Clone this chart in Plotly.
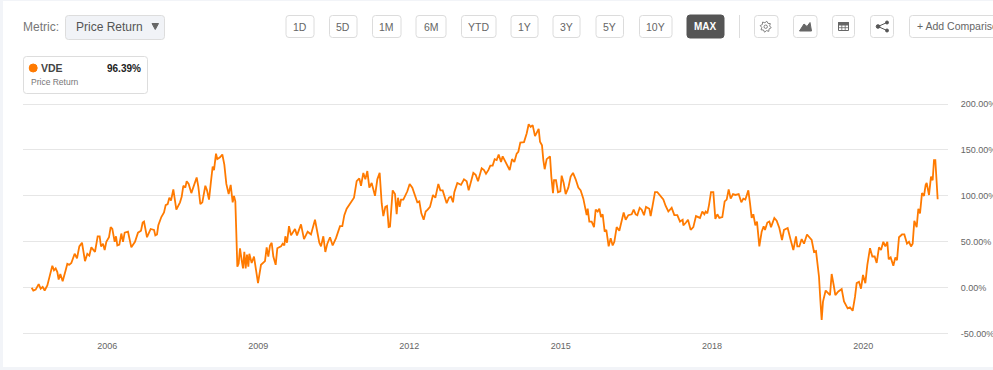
import math
import plotly.graph_objects as go

# Data: ordinal position on the (non-linear) time axis, and VDE price return in %
positions = [95,100,107,116,122,128,134,142,150,157,162,167,172,176,181,188,197,202,208,214,224,231,238,246,255,262,268,274,285,293,299,303,309,314,319,327,332,337,344,348,352,358,364,369,374,384,394,405,414,423,428,432,441,452,462,466,471,475,484,492,497,503,508,513,520,524,529,540,545,550,556,560,566,574,583,590,595,601,607,616,621,627,633,638,642,648,652,660,667,673,679,686,692,698,702,706,709,712,716,720,725,729,733,737,741,745,748,755,762,768,774,783,795,800,805,810,815,820,827,832,843,848,853,856,861,867,873,885,891,903,912,923,933,945,953,958,963,970,976,982,
990,998,1008,1020,1027,1033,1040,1055,1062,1070,1078,1083,1090,1096,1102,1108,1115,1125,1132,1139,1145,1150,1156,1161,1166,1170,1178,1185,1190,1194,1199,1203,1210,1222,1229,1237,1247,1252,1258,1264,1271,1277,1283,1290,1299,1306,1315,1321,1328,1340,1347,1353,1359,1363,1372,1383,1392,1400,1406,1415,1420,1427,1434,1445,1452,1458,1465,1471,1478,1484,1490,1496,1503,1508,1515,1523,1529,1536,1543,1550,1555,1561,1572,1580,1586,1592,1598,1605,1616,1620,1626,1630,1634,1640,1650,1654,1659,1662,1668,1674,1681,1685,1691,1697,1705,1712,1719,1727,1735,1742,1750,1755,1760,1763,1768,1775,1782,1787,1793,1798,1803,1808,1814,1819,1826,1832,1838,1843,1850,1858,1866,1871,1877,1885,1895,1901,1907,1912,1919,1925,1932,1938,1948,1952,1958,1965,1972,1980,
1990,1997,2005,2015,2023,2032,2040,2048,2050,2058,2064,2072,2080,2088,2100,2107,2113,2117,2122,2127,2133,2140,2146,2152,2158,2167,2174,2180,2186,2192,2199,2206,2216,2224,2230,2236,2245,2250,2255,2260,2266,2271,2278,2285,2291,2295,2302,2308,2313,2323,2330,2338,2346,2352,2363,2372,2380,2388,2392,2398,2405,2412,2421,2435,2442,2448,2457,2461,2465,2469,2477,2490,2495,2501,2506,2515,2525,2532,2543,2550,2558,2565,2570,2577,2583,2589,2596,2602,2610,2617,2624,2630,2637,2643,2650,2656,2662,2666,2672,2680,2686,2691,2697,2706,2713,2721,2727,2733,2738,2743,2750,2755,2760,2766,2772,2777,2780,2787,2793,2798,2802,2806,2810,2813,2816]
returns = [0,-3,-2,4,-1,1,-3,2.5,14,24,19,21,17,9,15,7,19,26,25,27,37,32,45,49,29,37,35,44,39,56,56,45,48,41,50,55,66,64,50,56,46,47,59,50,60,61,44,50,60,62,71,72,55,64,63,57,58,68,77,82,90,91,98,95,107,97,85,93,99,111,109,116,113,103,113,120,110,91,93,111,106,96,116,132,128,146,140,142,145,134,113,102,112,93,100,94,59,23,26.5,43,30,21,39,21,36,23,37,27,34,19,5,25,29,44,34,46,49,34,25,43,45,48,46,56,49,67,57,64,57,69,53,61,58,74,57,49,45,56,39,48,
55,46,54,67,67,79,86,94,98,116,119,111,125,118,127,109,114,100,118,125,92,78,88,89,66,66.5,106,102,80,98,88,96,96,105,113,109,97,93,94,81,74,83,85,88,101,98,113,106,106,92,98,99,93,104,114,112,118,116,106,120,125,123,116,130,128,124,128,133,133,140,139,145,137,143,138,134,128,140,137,146,148,158,158.5,168,178,175,177,165,173,159,155,139,129,140,143,121,103,117,117,104,105,122,114,102,109,121,125,118,109,106,97,88,79,86,72,72,66,85,83,86,77,80,61,63,45,54,46,50,66,62,73,82,74,79,80,85,80,79,87,85,79,88,86,78,90,104,104,100,
96,89,83,87,79,79,72,74,68,71,74,63,66,78,76,83,80,83,81,90,104,104,75,80,76,77,94,96,107,97,102,101,102,93,97,96,106,92,76,80,68,72,45,61,67,63,71,72,66,76,73,65,52,63,65,52,41,56,45,45,53,48,58,52,39,40,12,-13,-35,-15,-3,-8,15,3,-8,-4,-1.5,-15,-22.5,-21.4,-25,-10,5,6.5,-1,14,5,25,43,34,34,27,44,41,50,45,50,31,33,24,33,30,55,58,58,48,50,45,48,73,66,86,81,103,100,112,114,101,121,117,139,139,107,96.39]
tick_positions = [322, 775, 1228, 1682, 2136, 2590]
tick_labels = ["2006", "2009", "2012", "2015", "2018", "2020"]
range_buttons = [("1D",286,314),("5D",329.5,357),("1M",372.5,401),("6M",416,446),("YTD",461.5,496),
                 ("1Y",511,538),("3Y",553,580),("5Y",596,623.5),("10Y",639.5,672)]
y_ticks = [-50, 0, 50, 100, 150, 200]
y_labels = ["-50.00%", "0.00%", "50.00%", "100.00%", "150.00%", "200.00%"]

W, H = 993, 370
FONT = "Liberation Sans"
px = lambda v: v / W
py = lambda v: 1 - v / H

def rrect(x0, y0, x1, y1, r=3):
    X0, X1, Y0, Y1 = px(x0), px(x1), py(y0), py(y1)
    rx, ry = r / W, r / H
    return (f"M{X0+rx},{Y0} L{X1-rx},{Y0} Q{X1},{Y0} {X1},{Y0-ry} L{X1},{Y1+ry} Q{X1},{Y1} {X1-rx},{Y1} "
            f"L{X0+rx},{Y1} Q{X0},{Y1} {X0},{Y1+ry} L{X0},{Y0-ry} Q{X0},{Y0} {X0+rx},{Y0} Z")

def poly(points, close=True):
    s = "M" + " L".join(f"{px(a)},{py(b)}" for a, b in points)
    return s + (" Z" if close else "")

shapes, annos = [], []

def box(x0, y0, x1, y1, fill="#ffffff", line="#dcdcdc", r=3):
    shapes.append(dict(type="path", xref="paper", yref="paper", path=rrect(x0, y0, x1, y1, r),
                       fillcolor=fill, line=dict(color=line, width=1), layer="below"))

def pathshape(d, fill="rgba(0,0,0,0)", line="#666666", w=1):
    shapes.append(dict(type="path", xref="paper", yref="paper", path=d, fillcolor=fill,
                       line=dict(color=line, width=w), layer="above"))

def circle(cx, cy, r, fill="#666666", line="#666666", w=1):
    shapes.append(dict(type="circle", xref="paper", yref="paper", x0=px(cx-r), x1=px(cx+r),
                       y0=py(cy+r), y1=py(cy-r), fillcolor=fill, line=dict(color=line, width=w), layer="above"))

def text(t, x, y, size=11, color="#666666", anchor="left", bold=False):
    annos.append(dict(text=f"<b>{t}</b>" if bold else t, xref="paper", yref="paper", x=px(x), y=py(y),
                      xanchor=anchor, yanchor="middle", showarrow=False, borderpad=0, borderwidth=0,
                      font=dict(family=FONT, size=size, color=color)))

# page strip and white card
shapes.append(dict(type="rect", xref="paper", yref="paper", x0=px(3), x1=1, y0=py(367), y1=py(1),
                   fillcolor="#ffffff", line=dict(width=0), layer="below"))

# metric selector
text("Metric:", 23, 26.5, 12, "#777777")
box(65.5, 15.5, 164.5, 39.5, fill="#f1f3f7", line="#dddddd")
text("Price Return", 76, 27, 12, "#555555")
pathshape(poly([(152, 23.5), (158.5, 23.5), (155.25, 29.5)]), fill="#666666", line="#666666")

# range buttons
for label, x0, x1 in range_buttons:
    box(x0, 15.5, x1, 37.5)
    text(label, (x0 + x1) / 2, 26.5, 10.5, "#666666", "center")
box(687, 15, 724, 38, fill="#555555", line="#555555")
text("MAX", 705.5, 26.5, 10, "#ffffff", "center", bold=True)
shapes.append(dict(type="line", xref="paper", yref="paper", x0=px(739.5), x1=px(739.5), y0=py(15), y1=py(38),
                   line=dict(color="#dddddd", width=1)))

# tool buttons
for x0, x1 in [(754.5, 778), (793.5, 817), (832.5, 854.5), (870.5, 893.5)]:
    box(x0, 15.5, x1, 37.5)
# gear: outline with eight teeth and a hub
gear = []
for k in range(16):
    a = (k + 0.5) * math.pi / 8
    rad = 5.6 if k % 2 == 0 else 4.0
    gear.append((765.7 + rad * math.cos(a), 26.7 + rad * math.sin(a)))
pathshape(poly(gear), fill="#ffffff", line="#666666", w=0.8)
circle(765.7, 26.7, 1.7, fill="#ffffff", line="#666666", w=0.8)
pathshape(poly([(799.5, 31), (804, 24), (807, 26.5), (810, 22.5), (811.5, 31)]), fill="#666666")
pathshape(poly([(838.5, 22.5), (848.5, 22.5), (848.5, 30.5), (838.5, 30.5)]), fill="#ffffff", line="#666666")
pathshape(poly([(838.5, 22.5), (848.5, 22.5), (848.5, 25), (838.5, 25)]), fill="#666666")
for gx in (841.8, 845.2):
    pathshape(poly([(gx, 25), (gx, 30.5)], close=False), w=0.8)
pathshape(poly([(838.5, 27.7), (848.5, 27.7)], close=False), w=0.8)
pathshape(poly([(887, 22.5), (878, 26.5), (887, 30.5)], close=False), line="#555555", w=1)
circle(887, 22.5, 1.5, fill="#555555", line="#555555")
circle(878, 26.5, 1.8, fill="#555555", line="#555555")
circle(887, 30.5, 1.5, fill="#555555", line="#555555")
box(909.5, 15.5, 1010, 37.5)
text("+ Add Comparison", 916.5, 26, 10.5, "#666666")

# legend card
box(23.5, 56.5, 147.5, 93.5, line="#dddddd")
circle(33.2, 68, 4, fill="#ff7a00", line="#ff7a00")
text("VDE", 41, 68, 10.5, "#444444", bold=True)
text("96.39%", 140.5, 68, 10, "#222222", "right", bold=True)
text("Price Return", 31, 82, 8.5, "#777777")

fig = go.Figure(go.Scatter(x=positions, y=returns, mode="lines",
                           line=dict(color="#ff7a00", width=1.8), hoverinfo="skip", showlegend=False))
fig.update_layout(
    width=W, height=H, margin=dict(l=0, r=0, t=0, b=0, pad=0, autoexpand=False),
    paper_bgcolor="#f2f4f8", plot_bgcolor="#ffffff",
    shapes=shapes, annotations=annos,
    font=dict(family=FONT, size=9, color="#666666"),
    xaxis=dict(domain=[px(23), px(947.5)], range=[69, 2842.5], tickmode="array", automargin=False,
               tickvals=tick_positions, ticktext=tick_labels, showgrid=False, zeroline=False,
               ticks="outside", ticklen=2, tickcolor="rgba(0,0,0,0)", showline=False,
               tickfont=dict(family=FONT, size=9, color="#666666")),
    yaxis=dict(domain=[py(335.54), py(102.16)], range=[-52, 202], side="right", anchor="x", tickmode="array",
               tickvals=y_ticks, ticktext=y_labels, showgrid=True, gridcolor="#e6e6e6", gridwidth=1, automargin=False,
               zeroline=False, ticks="outside", ticklen=10.5, tickcolor="rgba(0,0,0,0)", showline=False,
               tickfont=dict(family=FONT, size=9, color="#666666")),
)
fig.write_html("out.html", config=dict(displayModeBar=False, staticPlot=True),
               post_script="document.body.style.margin='0';document.body.style.overflow='hidden';")
